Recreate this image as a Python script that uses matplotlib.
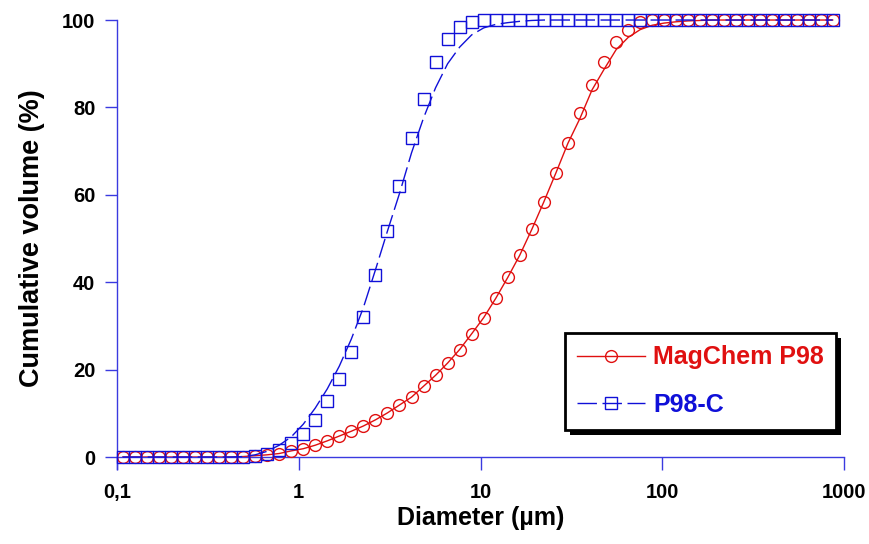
import matplotlib
matplotlib.use("Agg")
import matplotlib.pyplot as plt
from matplotlib.patches import Rectangle
from matplotlib.transforms import IdentityTransform

plt.rcParams['font.family'] = ['Liberation Sans', 'DejaVu Sans']

# diameters (um), log spaced measurement classes
diameter = [0.1075, 0.1252, 0.1458, 0.1698, 0.1978, 0.2304, 0.2683, 0.3125, 0.3639, 0.4239,
            0.4937, 0.5750, 0.6697, 0.7800, 0.9083, 1.058, 1.232, 1.435, 1.671, 1.946,
            2.267, 2.640, 3.075, 3.581, 4.171, 4.858, 5.657, 6.589, 7.674, 8.937,
            10.41, 12.12, 14.12, 16.44, 19.15, 22.30, 25.97, 30.25, 35.24, 41.04,
            47.79, 55.67, 64.83, 75.51, 87.94, 102.4, 119.3, 138.9, 161.8, 188.5,
            219.5, 255.6, 297.7, 346.7, 403.8, 470.3, 547.7, 637.9, 743.0, 865.3]

# MagChem P98 measured / fitted cumulative volume (%)
magchem = [0, 0, 0, 0, 0, 0, 0, 0, 0, 0,
           0.1, 0.3, 0.5, 0.8, 1.4, 1.9, 2.7, 3.7, 4.8, 5.9,
           7.1, 8.5, 10.1, 11.9, 13.7, 16.2, 18.7, 21.5, 24.6, 28.2,
           31.9, 36.3, 41.1, 46.2, 52.1, 58.4, 65.0, 71.8, 78.8, 85.1,
           90.4, 94.9, 97.7, 99.5, 100, 100, 100, 100, 100, 100,
           100, 100, 100, 100, 100, 100, 100, 100, 100, 100]
magchem_fit = [0, 0, 0, 0, 0, 0, 0, 0, 0, 0,
               0.1, 0.3, 0.5, 0.8, 1.4, 1.9, 2.7, 3.7, 4.8, 5.9,
               7.1, 8.5, 10.1, 11.9, 13.7, 16.2, 18.7, 21.5, 24.6, 28.2,
               31.9, 36.3, 41.1, 46.2, 52.1, 58.4, 65.0, 71.8, 77.5, 84.0,
               88.7, 93.2, 96.0, 97.8, 98.8, 99.3, 99.6, 99.8, 99.9, 100,
               100, 100, 100, 100, 100, 100, 100, 100, 100, 100]

# P98-C measured / fitted cumulative volume (%)
p98c = [0, 0, 0, 0, 0, 0, 0, 0, 0, 0,
        0, 0.2, 0.8, 1.5, 3.1, 5.3, 8.5, 12.8, 17.9, 24.0,
        32.1, 41.6, 51.8, 62.1, 72.9, 81.9, 90.4, 95.6, 98.5, 99.6,
        100, 100, 100, 100, 100, 100, 100, 100, 100, 100,
        100, 100, 100, 100, 100, 100, 100, 100, 100, 100,
        100, 100, 100, 100, 100, 100, 100, 100, 100, 100]
p98c_fit = [0, 0, 0, 0, 0, 0, 0, 0, 0, 0,
            0.1, 0.5, 1.3, 2.7, 4.6, 7.5, 11.2, 15.6, 20.8, 27.0,
            34.2, 42.8, 51.7, 60.3, 69.6, 77.6, 84.5, 90.0, 93.8, 96.6,
            98.2, 99.0, 99.4, 99.7, 99.9, 100, 100, 100, 100, 100,
            100, 100, 100, 100, 100, 100, 100, 100, 100, 100,
            100, 100, 100, 100, 100, 100, 100, 100, 100, 100]

xticks = [0.1, 1, 10, 100, 1000]
xticklabels = ['0,1', '1', '10', '100', '1000']
yticks = [0, 20, 40, 60, 80, 100]

red = '#e01010'
blue = '#1010d8'
axcol = '#3a3ae0'

fig = plt.figure(figsize=(8.7, 5.44), dpi=100)
ax = fig.add_axes([0.1345, 0.1599, 0.8357, 0.8033])

ax.plot(diameter, magchem_fit, color=red, lw=1.0, zorder=2, clip_on=False)
ax.plot(diameter, magchem, ls='none', marker='o', ms=8.5, mfc='none', mec=red, mew=1.0,
        zorder=3, clip_on=False)
ax.plot(diameter, p98c_fit, color=blue, lw=1.0, dashes=(14, 4), zorder=4, clip_on=False)
ax.plot(diameter, p98c, ls='none', marker='s', ms=8.5, mfc='none', mec=blue, mew=1.0,
        zorder=3, clip_on=False)

# legend handles
h1, = ax.plot([], [], color=red, lw=1.0, marker='o', ms=8.5, mfc='none', mec=red)
h2, = ax.plot([], [], color=blue, lw=1.0, dashes=(14, 4), marker='s', ms=8.5, mfc='none', mec=blue)

ax.set_xscale('log')
ax.set_xlim(0.1, 1000)
ax.set_ylim(0, 100)
ax.set_xticks(xticks)
ax.set_xticklabels(xticklabels)
ax.set_yticks(yticks)
ax.xaxis.set_minor_locator(matplotlib.ticker.NullLocator())

for s in ['top', 'right']:
    ax.spines[s].set_visible(False)
for s in ['left', 'bottom']:
    ax.spines[s].set_color(axcol)
    ax.spines[s].set_linewidth(1.0)
# left axis line runs a bit below zero like the original
ax.plot([0.1, 0.1], [-2.7, 0], color=axcol, lw=1.0, clip_on=False)

ax.tick_params(axis='x', direction='out', length=9.5, width=1.0, color=axcol, pad=9,
               labelsize=14.5)
ax.tick_params(axis='y', direction='out', length=8.5, width=1.0, color=axcol, pad=7,
               labelsize=14.5)
for lab in ax.get_xticklabels() + ax.get_yticklabels():
    lab.set_fontweight('bold')

ax.set_xlabel('Diameter (µm)', fontsize=18, fontweight='bold', labelpad=3)
ax.set_ylabel('Cumulative volume (%)', fontsize=19.5, fontweight='bold', labelpad=12)

leg = ax.legend([h1, h2], ['MagChem P98', 'P98-C'], loc='upper left',
                bbox_to_anchor=(0.616, 0.284), borderaxespad=0, frameon=True,
                fancybox=False, framealpha=1, edgecolor='black',
                prop={'size': 18, 'weight': 'bold'}, labelcolor=[red, blue],
                handlelength=2.7, handletextpad=0.33, numpoints=1,
                borderpad=0.5, labelspacing=0.95)
leg.get_frame().set_linewidth(2.0)
leg.set_zorder(10)

fig.canvas.draw()
bb = leg.get_window_extent()
shadow = Rectangle((bb.x0 + 5, bb.y0 - 5), bb.width, bb.height, transform=IdentityTransform(),
                   facecolor='black', edgecolor='none', zorder=9)
ax.add_artist(shadow)
shadow.set_clip_on(False)

fig.savefig('out.png', dpi=100)
